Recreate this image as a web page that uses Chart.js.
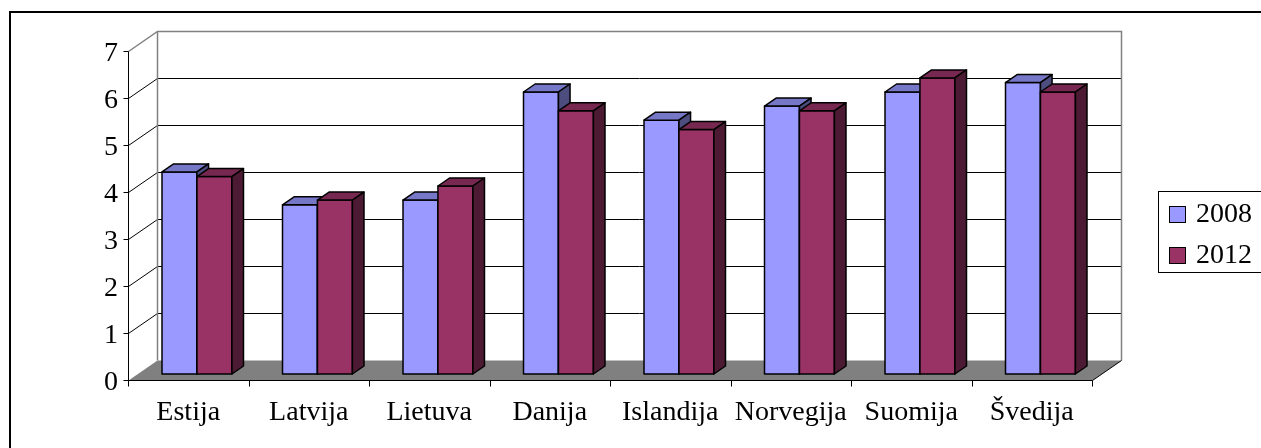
<!DOCTYPE html>
<html>
<head>
<meta charset="utf-8">
<script src="https://cdn.jsdelivr.net/npm/chart.js@4"></script>
<style>
  html, body { margin: 0; padding: 0; background: #fff; }
  canvas { display: block; }
</style>
</head>
<body>
<canvas id="grafikas" width="1261" height="448"></canvas>
<script>
const valstybes = ['Estija', 'Latvija', 'Lietuva', 'Danija', 'Islandija', 'Norvegija', 'Suomija', 'Švedija'];
const metai = ['2008', '2012'];
const reiksmes2008 = [4.3, 3.6, 3.7, 6.0, 5.4, 5.7, 6.0, 6.2];
const reiksmes2012 = [4.2, 3.7, 4.0, 5.6, 5.2, 5.6, 6.3, 6.0];
const yZymos = [0, 1, 2, 3, 4, 5, 6, 7];

const spalvos = ['#9999FF', '#993366'];
const sriftas = "'Liberation Serif', 'Times New Roman', serif";

// perspektyva: sienos gylis ir stulpeliu padetis jame
const DX = 29, DY = -20;
const priekis = 0.3, galas = 0.7;

function tamsinti(hex, k) {
    const n = parseInt(hex.slice(1), 16);
    const r = Math.round(((n >> 16) & 255) * k);
    const g = Math.round(((n >> 8) & 255) * k);
    const b = Math.round((n & 255) * k);
    return `rgb(${r},${g},${b})`;
}

function linija(ctx, taskai, spalva, plotis) {
    ctx.beginPath();
    ctx.moveTo(taskai[0][0], taskai[0][1]);
    for (let i = 1; i < taskai.length; i++) ctx.lineTo(taskai[i][0], taskai[i][1]);
    ctx.strokeStyle = spalva;
    ctx.lineWidth = plotis || 1;
    ctx.stroke();
}

function plokste(ctx, taskai, fill) {
    ctx.beginPath();
    ctx.moveTo(taskai[0][0], taskai[0][1]);
    for (let i = 1; i < taskai.length; i++) ctx.lineTo(taskai[i][0], taskai[i][1]);
    ctx.closePath();
    ctx.fillStyle = fill;
    ctx.fill();
    ctx.strokeStyle = '#000';
    ctx.lineWidth = 1.5;
    ctx.lineJoin = 'round';
    ctx.stroke();
}

function kubas(ctx, x1, x2, yt, yb, spalva) {
    const ox = DX * priekis, oy = DY * priekis;
    const gx = DX * (galas - priekis), gy = DY * (galas - priekis);
    const a = x1 + ox, b = x2 + ox, t = yt + oy, p = yb + oy;
    // priekis
    plokste(ctx, [[a, t], [b, t], [b, p], [a, p]], spalva);
    // virsus
    plokste(ctx, [[a, t], [a + gx, t + gy], [b + gx, t + gy], [b, t]], tamsinti(spalva, 0.78));
    // sonas
    plokste(ctx, [[b, t], [b + gx, t + gy], [b + gx, p + gy], [b, p]], tamsinti(spalva, 0.5));
}

const erdve = {
    id: 'erdve',
    beforeDraw(chart) {
        const ctx = chart.ctx;
        ctx.save();
        ctx.fillStyle = '#fff';
        ctx.fillRect(0, 0, chart.width, chart.height);
        ctx.strokeStyle = '#000';
        ctx.lineWidth = 2;
        ctx.strokeRect(10, 12, chart.width + 20, chart.height + 20);
        ctx.restore();
    },
    beforeDatasetsDraw(chart) {
        const ctx = chart.ctx;
        const x = chart.scales.x, y = chart.scales.y;
        const L = Math.round(x.left) + 0.5, R = Math.round(x.right) + 0.5;
        const y0 = Math.round(y.getPixelForValue(0)) + 0.5;
        const y7 = Math.round(y.getPixelForValue(7)) + 0.5;
        ctx.save();

        // grindys
        ctx.beginPath();
        ctx.moveTo(L, y0); ctx.lineTo(R, y0); ctx.lineTo(R + DX, y0 + DY); ctx.lineTo(L + DX, y0 + DY);
        ctx.closePath();
        ctx.fillStyle = '#808080';
        ctx.fill();

        // tinklelis ant galines ir sonines sienos
        yZymos.forEach(v => {
            if (v === 0 || v === 7) return;
            const py = Math.round(y.getPixelForValue(v)) + 0.5;
            linija(ctx, [[L, py], [L + DX, py + DY], [R + DX, py + DY]], '#000', 1);
        });
        linija(ctx, [[L, y7], [L + DX, y7 + DY], [R + DX, y7 + DY], [R + DX, y0 + DY]], '#808080', 1.5);
        linija(ctx, [[L + DX, y7 + DY], [L + DX, y0 + DY]], '#808080', 1.5);
        linija(ctx, [[R, y0], [R + DX, y0 + DY]], '#000', 1);

        // asys su brukseliais
        linija(ctx, [[L, y7], [L, y0], [R, y0]], '#000', 1);
        yZymos.forEach(v => {
            const py = Math.round(y.getPixelForValue(v)) + 0.5;
            linija(ctx, [[L - 5, py], [L, py]], '#000', 1);
        });
        const zingsnis = (x.right - x.left) / valstybes.length;
        for (let i = 0; i <= valstybes.length; i++) {
            const px = Math.round(x.left + i * zingsnis) + 0.5;
            linija(ctx, [[px, y0], [px, y0 + 6]], '#000', 1);
        }

        // stulpeliai
        const metas = [chart.getDatasetMeta(0), chart.getDatasetMeta(1)];
        for (let i = 0; i < valstybes.length; i++) {
            metas.forEach((m, d) => {
                const el = m.data[i];
                kubas(ctx, el.x - el.width / 2, el.x + el.width / 2, el.y, el.base, spalvos[d]);
            });
        }
        ctx.restore();
        return false;
    },
    afterDraw(chart) {
        const ctx = chart.ctx;
        ctx.save();
        ctx.strokeStyle = '#000';
        ctx.lineWidth = 1;
        ctx.strokeRect(1158.5, 191.5, 130, 81);
        ctx.font = '28px ' + sriftas;
        ctx.textBaseline = 'middle';
        ctx.textAlign = 'left';
        chart.data.datasets.forEach((ds, i) => {
            const cy = 214 + i * 41;
            ctx.fillStyle = ds.backgroundColor;
            ctx.fillRect(1169.5, cy - 7.5, 16, 16);
            ctx.strokeRect(1169.5, cy - 7.5, 16, 16);
            ctx.fillStyle = '#000';
            ctx.fillText(ds.label, 1196, cy + 1);
        });
        ctx.restore();
    }
};

new Chart(document.getElementById('grafikas'), {
    type: 'bar',
    data: {
        labels: valstybes,
        datasets: [
            { label: metai[0], data: reiksmes2008, backgroundColor: spalvos[0] },
            { label: metai[1], data: reiksmes2012, backgroundColor: spalvos[1] }
        ]
    },
    options: {
        responsive: false,
        animation: false,
        devicePixelRatio: 1,
        categoryPercentage: 0.58,
        barPercentage: 1,
        layout: { padding: { left: 0, top: 51, right: 169, bottom: 0 } },
        plugins: { legend: { display: false }, tooltip: { enabled: false } },
        scales: {
            x: {
                grid: { display: false, drawTicks: false },
                border: { display: false },
                ticks: { color: '#000', font: { family: sriftas, size: 28 }, padding: 16, maxRotation: 0, autoSkip: false },
                afterFit(s) { s.height = 68; }
            },
            y: {
                min: 0, max: 7,
                grid: { display: false, drawTicks: false },
                border: { display: false },
                ticks: { color: '#000', stepSize: 1, font: { family: sriftas, size: 28 }, padding: 10, labelOffset: 3 },
                afterFit(s) { s.width = 128; }
            }
        }
    },
    plugins: [erdve]
});
</script>
</body>
</html>
